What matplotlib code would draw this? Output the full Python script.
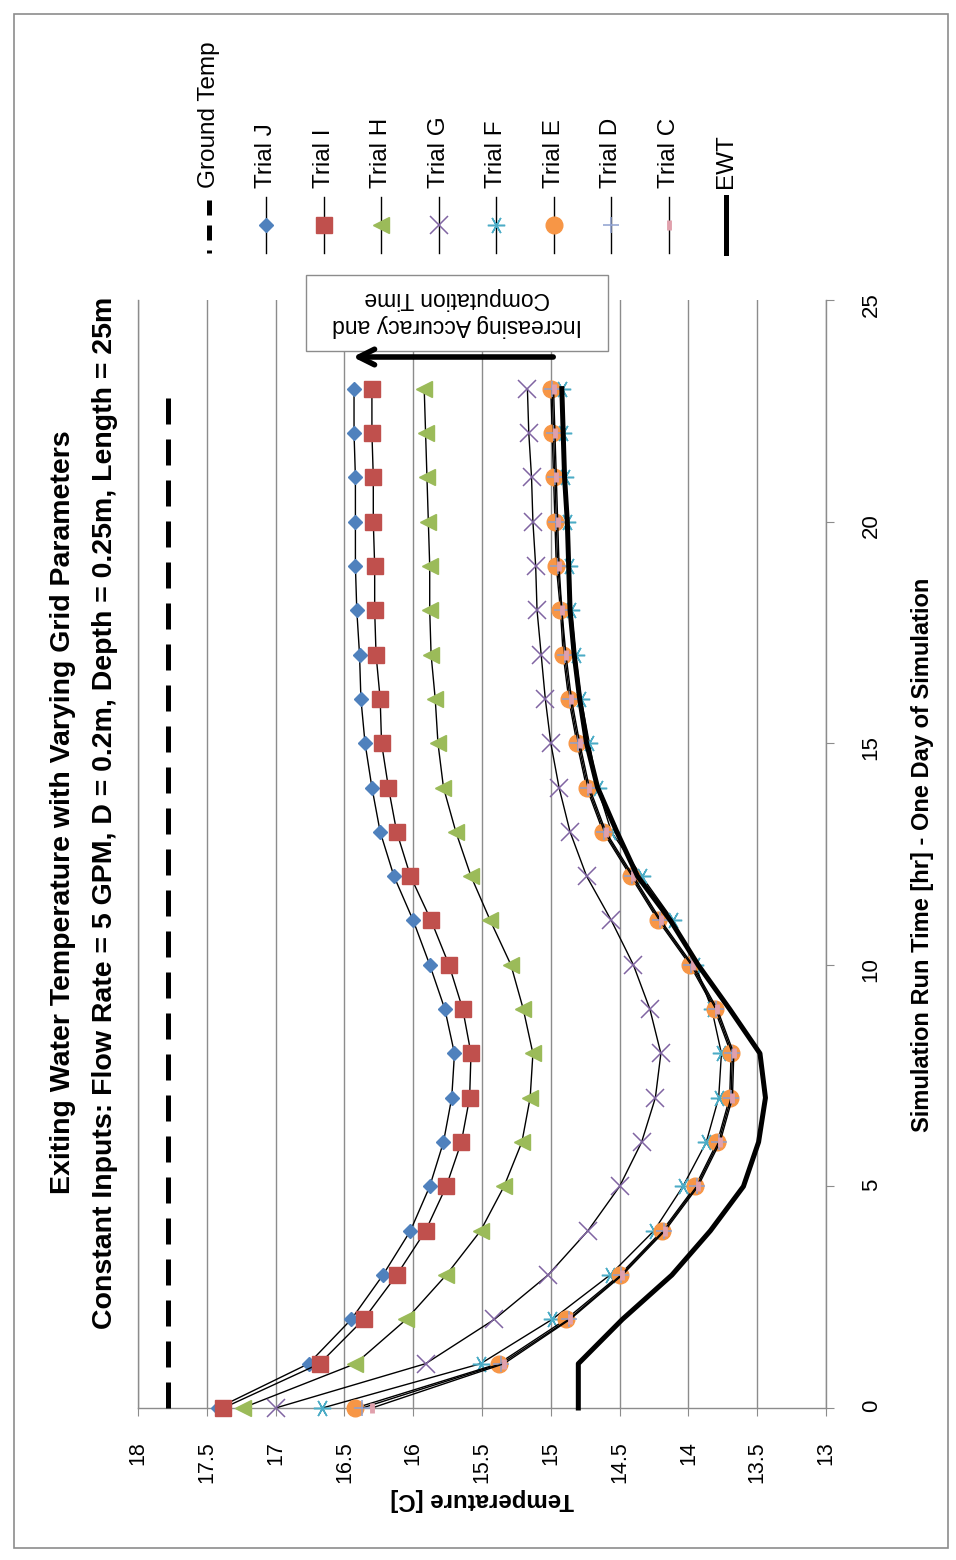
import numpy as np
import matplotlib.pyplot as plt
from matplotlib.patches import Rectangle

plt.rcParams['font.family'] = ['Liberation Sans', 'DejaVu Sans']

# data (time in hours, temperature in C)
hours = list(range(24))
ground_temp = [17.78, 17.78, 17.78, 17.78, 17.78, 17.78, 17.78, 17.78,
               17.78, 17.78, 17.78, 17.78, 17.78, 17.78, 17.78, 17.78,
               17.78, 17.78, 17.78, 17.78, 17.78, 17.78, 17.78, 17.78]
trial_j = [17.42, 16.76, 16.45, 16.22, 16.02, 15.88, 15.78, 15.72, 15.70, 15.77, 15.88, 16.00,
           16.14, 16.24, 16.30, 16.35, 16.38, 16.39, 16.41, 16.42, 16.42, 16.42, 16.43, 16.43]
trial_i = [17.38, 16.68, 16.36, 16.12, 15.91, 15.76, 15.65, 15.59, 15.58, 15.64, 15.74, 15.87,
           16.02, 16.12, 16.18, 16.23, 16.24, 16.27, 16.28, 16.28, 16.29, 16.29, 16.30, 16.30]
trial_h = [17.24, 16.42, 16.05, 15.76, 15.51, 15.34, 15.21, 15.15, 15.13, 15.20, 15.29, 15.44,
           15.58, 15.69, 15.78, 15.82, 15.84, 15.87, 15.88, 15.88, 15.89, 15.90, 15.91, 15.92]
trial_g = [17.00, 15.91, 15.41, 15.02, 14.73, 14.50, 14.34, 14.24, 14.20, 14.28, 14.40, 14.56,
           14.74, 14.86, 14.94, 15.00, 15.04, 15.07, 15.10, 15.11, 15.13, 15.14, 15.16, 15.17]
trial_f = [16.66, 15.51, 14.99, 14.57, 14.25, 14.04, 13.87, 13.78, 13.76, 13.83, 13.95, 14.11,
           14.34, 14.56, 14.66, 14.72, 14.78, 14.82, 14.85, 14.87, 14.88, 14.90, 14.91, 14.92]
trial_e = [16.42, 15.38, 14.89, 14.50, 14.19, 13.95, 13.79, 13.70, 13.69, 13.81, 13.99, 14.22,
           14.42, 14.62, 14.74, 14.81, 14.87, 14.91, 14.93, 14.96, 14.97, 14.98, 14.99, 15.00]
trial_d = [16.37, 15.36, 14.87, 14.49, 14.18, 13.94, 13.78, 13.69, 13.68, 13.80, 13.98, 14.21,
           14.41, 14.61, 14.73, 14.80, 14.86, 14.90, 14.92, 14.95, 14.96, 14.97, 14.98, 14.99]
trial_c = [16.30, 15.34, 14.86, 14.48, 14.17, 13.93, 13.77, 13.68, 13.67, 13.79, 13.97, 14.20,
           14.40, 14.60, 14.72, 14.79, 14.85, 14.89, 14.92, 14.94, 14.95, 14.96, 14.97, 14.98]
ewt = [14.80, 14.80, 14.48, 14.12, 13.84, 13.60, 13.49, 13.44, 13.48, 13.70, 13.93, 14.13,
       14.37, 14.52, 14.66, 14.74, 14.79, 14.83, 14.86, 14.87, 14.88, 14.90, 14.91, 14.92]

temp_ticks = [18, 17.5, 17, 16.5, 16, 15.5, 15, 14.5, 14, 13.5, 13]
temp_labels = ['18', '17.5', '17', '16.5', '16', '15.5', '15', '14.5', '14', '13.5', '13']
time_ticks = [0, 5, 10, 15, 20, 25]

title1 = 'Exiting Water Temperature with Varying Grid Parameters'
title2 = 'Constant Inputs: Flow Rate = 5 GPM, D = 0.2m, Depth = 0.25m, Length = 25m'

grey = '#8c8c8c'

# chart is drawn turned on its side: temperature runs across, time runs up
fig = plt.figure(figsize=(9.56, 15.6), dpi=100)
ax = fig.add_axes([138 / 956, 1 - 1408 / 1560, 688 / 956, 1108 / 1560])

ax.plot(ground_temp, hours, color='black', lw=3.6, dashes=(5.2, 3), zorder=3, clip_on=False)

trials = [
    ('Trial J', trial_j, dict(marker='D', ms=7, mfc='#4F81BD', mec='#4F81BD')),
    ('Trial I', trial_i, dict(marker='s', ms=12, mfc='#C0504D', mec='#C0504D')),
    ('Trial H', trial_h, dict(marker='<', ms=11.5, mfc='#9BBB59', mec='#9BBB59')),
    ('Trial G', trial_g, dict(marker='x', ms=12.5, mec='#8064A2', mew=1.1)),
    ('Trial F', trial_f, dict(marker=(6, 2, 90), ms=12.5, mec='#4BACC6', mew=1.1)),
    ('Trial E', trial_e, dict(marker='o', ms=12, mfc='#F79646', mec='#F79646')),
    ('Trial D', trial_d, dict(marker='+', ms=12, mec='#8EA0CF', mew=1.1)),
    ('Trial C', trial_c, dict(marker='|', ms=7, mec='#E0A0AC', mew=3.5)),
]
for name, vals, style in trials:
    ax.plot(vals, hours, color='black', lw=1.0, zorder=4, clip_on=False, **style)

ax.plot(ewt, hours, color='black', lw=3.6, zorder=5, clip_on=False)

ax.set_xlim(18, 13)
ax.set_ylim(0, 25)
ax.set_xticks(temp_ticks)
ax.set_xticklabels(temp_labels)
ax.set_yticks(time_ticks)
ax.grid(axis='x', color=grey, lw=1.0)
ax.grid(axis='y', visible=False)
ax.spines['top'].set_visible(False)
for s in ['left', 'right', 'bottom']:
    ax.spines[s].set_color(grey)
    ax.spines[s].set_linewidth(1.0)
ax.tick_params(axis='x', direction='out', length=6, color=grey, labelrotation=90,
               labelsize=15.5, pad=18)
ax.tick_params(axis='y', left=False, right=True, labelleft=False, labelright=True,
               direction='out', length=6, color=grey, labelrotation=90, labelsize=16, pad=19)

# titles and axis labels
fig.text(63 / 956, 1 - 812 / 1560, title1, rotation=90, ha='center', va='center',
         fontsize=20.5, fontweight='bold')
fig.text(105 / 956, 1 - 813 / 1560, title2, rotation=90, ha='center', va='center',
         fontsize=20.5, fontweight='bold')
fig.text(922 / 956, 1 - 855 / 1560, 'Simulation Run Time [hr] - One Day of Simulation',
         rotation=90, ha='center', va='center', fontsize=17, fontweight='bold')
fig.text(482 / 956, 1 - 1500 / 1560, 'Temperature [C]', rotation=180,
         ha='center', va='center', fontsize=17.3, fontweight='bold')

# overlay in pixel units for legend, note box and border
ov = fig.add_axes([0, 0, 1, 1], facecolor='none')
ov.set_xlim(0, 956)
ov.set_ylim(1560, 0)
ov.axis('off')

ov.add_patch(Rectangle((14, 14), 934, 1534, fill=False, ec=grey, lw=1.2))

ov.add_patch(Rectangle((306, 275), 302, 76, fc='white', ec=grey, lw=1.0, zorder=5))
ov.text(457, 312, 'Increasing Accuracy and\nComputation Time', rotation=180,
        ha='center', va='center', multialignment='center', fontsize=16.5, zorder=6)
ov.annotate('', xy=(350, 357), xytext=(556, 357), zorder=7,
            arrowprops=dict(arrowstyle='->', lw=4, color='black', mutation_scale=28))

# legend, laid out across the top
leg_x = 209
ov.plot([leg_x, leg_x], [200, 253], color='black', lw=3.6, dashes=(3, 2))
ov.text(leg_x, 188, 'Ground Temp', rotation=90, ha='center', va='bottom', fontsize=17.5)
for k, (name, vals, style) in enumerate(trials):
    lx = leg_x + 57.5 * (k + 1)
    ov.plot([lx, lx], [197, 253], color='black', lw=1.0)
    ov.plot([lx], [225], ls='none', **style)
    ov.text(lx, 188, name, rotation=90, ha='center', va='bottom', fontsize=17.5)
lx = leg_x + 57.5 * 9
ov.plot([lx, lx], [197, 253], color='black', lw=3.6)
ov.text(lx, 188, 'EWT', rotation=90, ha='center', va='bottom', fontsize=17.5)

fig.savefig('out.png', dpi=100)
